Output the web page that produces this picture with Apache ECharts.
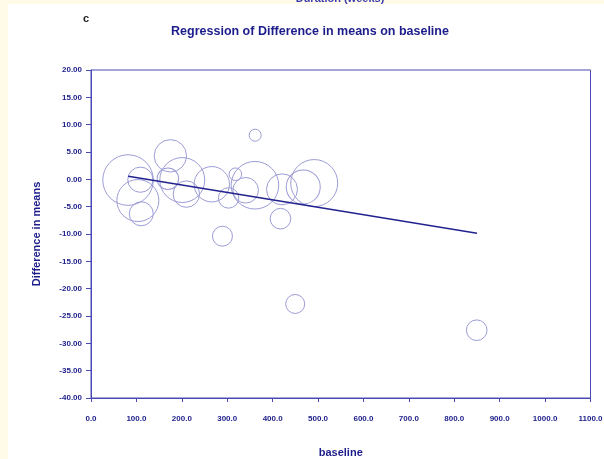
<!DOCTYPE html>
<html>
<head>
<meta charset="utf-8">
<script src="https://cdn.jsdelivr.net/npm/echarts@6/dist/echarts.min.js"></script>
<style>
html,body{margin:0;padding:0;background:#fffbe8;}
#chart{width:604px;height:459px;}
</style>
</head>
<body>
<div id="chart"></div>
<script>
// Study-level data
const baseline = [81.6, 108.7, 103.2, 110.7, 174.8, 169.3, 201.0, 210.0, 266.0, 289.5, 303.0, 318.0, 361.5, 361.0, 340.6, 420.6, 417.3, 467.4, 491.6, 449.7, 849.4];
const diffMeans = [-0.13, -0.07, -3.88, -6.3, 4.3, 0.1, -0.13, -2.7, -0.9, -10.4, -3.4, 0.93, 8.07, -1.08, -2.0, -1.83, -7.2, -1.4, -0.68, -22.8, -27.6];
const weights = [100, 24.8, 68.9, 22.5, 41, 18.2, 79, 27.2, 48.9, 15.6, 16.3, 6.2, 5.6, 88.5, 25.6, 37.5, 16.6, 45.2, 86.3, 14.1, 16.6];
// Regression line end points
const regX = [82, 850];
const regY = [0.55, -9.88];
// Axis ticks
const xTicks = [0, 100, 200, 300, 400, 500, 600, 700, 800, 900, 1000, 1100];
const yTicks = [20, 15, 10, 5, 0, -5, -10, -15, -20, -25, -30, -35, -40];

const navy = '#1c1c8a';
const axisCol = '#4a4ab4';
const bubbleCol = '#9c9cd6';

const bubbles = baseline.map((x, i) => [x, diffMeans[i], weights[i]]);
const regLine = regX.map((x, i) => [x, regY[i]]);

const chart = echarts.init(document.getElementById('chart'), null, {renderer: 'canvas'});
chart.setOption({
  backgroundColor: '#fffbe8',
  animation: false,
  graphic: [
    {type: 'rect', left: 8, top: 4, shape: {width: 600, height: 460}, style: {fill: '#ffffff'}, z: -10},
    {type: 'text', x: 340, y: -1, style: {text: 'Duration (weeks)', fill: '#3a3ab0', font: 'bold 11px "Liberation Sans", Arial, sans-serif', textAlign: 'center', textVerticalAlign: 'middle'}},
    {type: 'text', x: 86, y: 19, style: {text: 'c', fill: '#222222', font: 'bold 11px "Liberation Sans", Arial, sans-serif', textAlign: 'center', textVerticalAlign: 'middle'}},
    {type: 'text', x: 310, y: 32, style: {text: 'Regression of Difference in means on baseline', fill: navy, font: 'bold 12.5px "Liberation Sans", Arial, sans-serif', textAlign: 'center', textVerticalAlign: 'middle'}}
  ],
  grid: {left: 91, top: 70, width: 499.5, height: 328, outerBoundsMode: 'none', containLabel: false, show: true, borderColor: axisCol, borderWidth: 1, backgroundColor: 'transparent'},
  xAxis: {
    type: 'value', min: xTicks[0], max: xTicks[xTicks.length - 1], interval: 100,
    name: 'baseline', nameLocation: 'middle', nameGap: 49,
    nameTextStyle: {color: navy, fontWeight: 'bold', fontSize: 11, fontFamily: '"Liberation Sans", Arial, sans-serif'},
    axisLine: {show: true, onZero: false, lineStyle: {color: axisCol, width: 1}},
    axisTick: {show: true, length: 4, lineStyle: {color: axisCol}},
    axisLabel: {color: navy, fontWeight: 'bold', fontSize: 8, margin: 17, fontFamily: '"Liberation Sans", Arial, sans-serif', formatter: v => v.toFixed(1)},
    splitLine: {show: false}
  },
  yAxis: {
    type: 'value', min: yTicks[yTicks.length - 1], max: yTicks[0], interval: 5,
    name: 'Difference in means', nameLocation: 'middle', nameGap: 49, nameRotate: 90,
    nameTextStyle: {color: navy, fontWeight: 'bold', fontSize: 11, fontFamily: '"Liberation Sans", Arial, sans-serif'},
    axisLine: {show: true, onZero: false, lineStyle: {color: axisCol, width: 1}},
    axisTick: {show: true, length: 5, lineStyle: {color: axisCol}},
    axisLabel: {color: navy, fontWeight: 'bold', fontSize: 8, margin: 9, fontFamily: '"Liberation Sans", Arial, sans-serif', formatter: v => v.toFixed(2)},
    splitLine: {show: false}
  },
  series: [
    {
      type: 'scatter', data: bubbles, symbol: 'circle',
      symbolSize: d => 5.06 * Math.sqrt(d[2]),
      itemStyle: {color: 'rgba(0,0,0,0)', borderColor: bubbleCol, borderWidth: 1, opacity: 1},
      emphasis: {disabled: true}, z: 2
    },
    {
      type: 'line', data: regLine, showSymbol: false, symbol: 'none',
      lineStyle: {color: '#22228e', width: 1.5}, z: 3
    }
  ]
});
</script>
</body>
</html>
